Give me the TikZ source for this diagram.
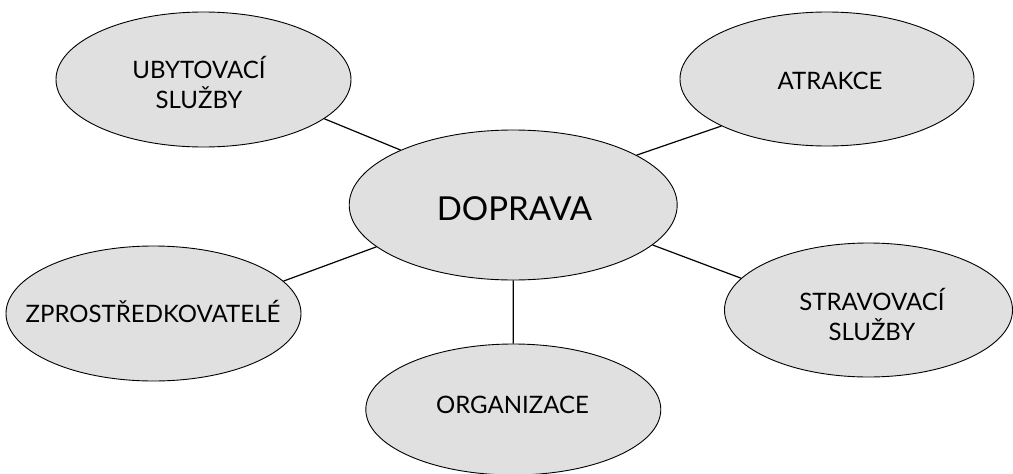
\documentclass[tikz,border=0pt]{standalone}
\usepackage{fontspec}
\setmainfont{Lato}
\usetikzlibrary{shapes.geometric}
\definecolor{bubblegray}{RGB}{224,224,224}
\begin{document}
\begin{tikzpicture}[x=1pt,y=-1pt,
  bubble/.style={ellipse, draw=black, line width=0.9pt, fill=bubblegray, inner sep=0pt},
  lbl/.style={inner sep=0pt, anchor=base, font=\fontsize{24}{29}\selectfont},
  biglbl/.style={inner sep=0pt, anchor=base, font=\fontsize{33}{40}\selectfont},
  link/.style={line width=1.2pt, draw=black}]
\useasboundingbox (0,0) rectangle (1013,474);
\node[bubble, minimum width=295pt, minimum height=135pt] (ubyt) at (203.5,79.5) {};
\node[bubble, minimum width=294pt, minimum height=134pt] (atr) at (827,79) {};
\node[bubble, minimum width=328pt, minimum height=150pt] (dop) at (513.2,205) {};
\node[bubble, minimum width=295pt, minimum height=135pt] (zpr) at (153.5,313.5) {};
\node[bubble, minimum width=288pt, minimum height=134pt] (str) at (868.5,310) {};
\node[bubble, minimum width=295pt, minimum height=131pt] (org) at (513.3,409.5) {};
\draw[link] (ubyt.-18.4) -- (dop.154.8);
\draw[link] (atr.204.6) -- (dop.22);
\draw[link] (zpr.14.1) -- (dop.197.2);
\draw[link] (str.166.5) -- (dop.-16.8);
\draw[link] (dop.south) -- (org.north);
\node[lbl] (tubyt) at (199,78) {\begin{tabular}[t]{@{}c@{}}UBYTOVACÍ\\SLUŽBY\end{tabular}};
\node[lbl] (tatr) at (830,89.3) {ATRAKCE};
\node[biglbl] (tdop) at (514.5,220.5) {DOPRAVA};
\node[lbl] (tzpr) at (153,322) {ZPROSTŘEDKOVATELÉ};
\node[lbl] (tstr) at (872,310) {\begin{tabular}[t]{@{}c@{}}STRAVOVACÍ\\SLUŽBY\end{tabular}};
\node[lbl] (torg) at (512.5,413.5) {ORGANIZACE};
\end{tikzpicture}
\end{document}
